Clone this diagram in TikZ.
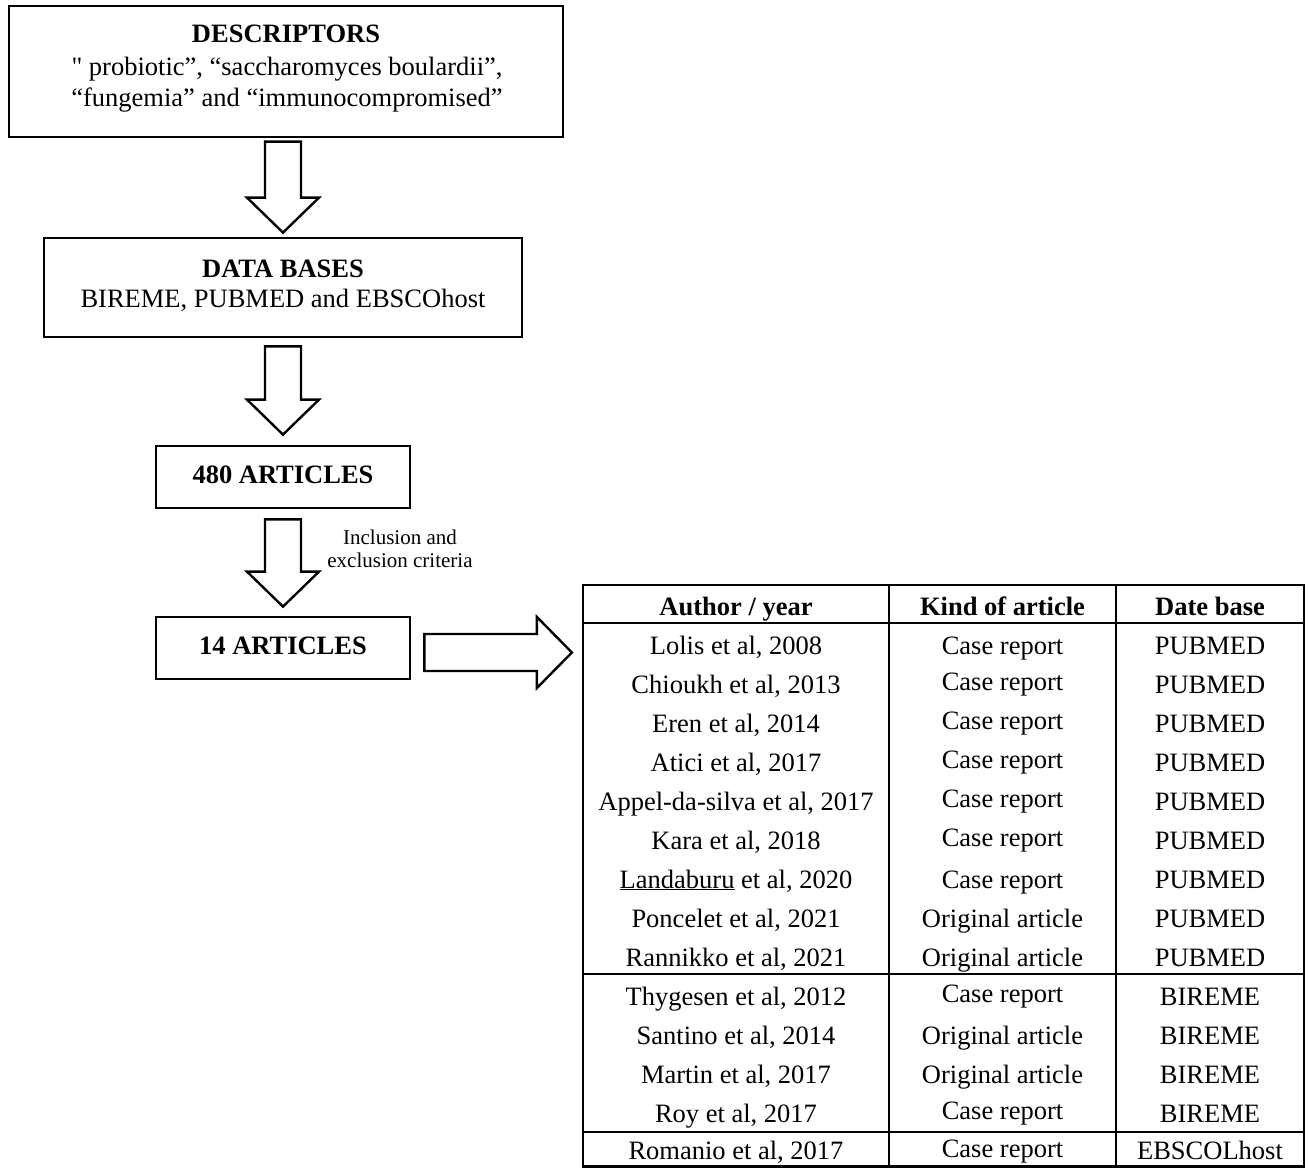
\documentclass[tikz,border=0pt]{standalone}
\usepackage{fontspec}
\setmainfont{Liberation Serif}
\usetikzlibrary{calc}
\tikzset{
  boxshape/.style={draw, line width=2.8pt, inner sep=0pt},
  blk/.style={draw, line width=2.4pt, line join=miter, fill=white},
  txt/.style={inner sep=0pt, anchor=base, font=\fontsize{26.5}{31}\selectfont},
  btxt/.style={txt, font=\fontsize{26.5}{31}\selectfont\bfseries},
  stxt/.style={inner sep=0pt, anchor=base, font=\fontsize{21}{25}\selectfont},
  tline/.style={line width=2.2pt},
}
\newcommand\straightdq{\XeTeXglyph\XeTeXcharglyph"22\relax}
\newcommand\dnblock[2]{%
  \draw[blk] let \p1=(#1), \p2=(#2) in
    (\x1-18pt,\y1) -- (\x1+18pt,\y1) -- (\x1+18pt,\y2+35pt) -- (\x1+36pt,\y2+35pt)
    -- (\x1,\y2) -- (\x1-36pt,\y2+35pt) -- (\x1-18pt,\y2+35pt) -- cycle;}
\begin{document}
\begin{tikzpicture}[x=1pt,y=-1pt]
\useasboundingbox (0,0) rectangle (1309,1168);

% boxes
\node[boxshape, minimum width=554, minimum height=131] (desc) at (286,71.5) {};
\node[btxt] (desc1) at (286,42) {DESCRIPTORS};
\node[txt] (desc2) at (287,75) {\straightdq{} probiotic”, “saccharomyces boulardii”,};
\node[txt] (desc3) at (287,106) {“fungemia” and “immunocompromised”};

\node[boxshape, minimum width=478, minimum height=99] (db) at (283,287.5) {};
\node[btxt] (db1) at (283,277) {DATA BASES};
\node[txt] (db2) at (283,307) {BIREME, PUBMED and EBSCOhost};

\node[boxshape, minimum width=254, minimum height=62] (a480) at (283,477) {};
\node[btxt] (a480t) at (283,483) {480 ARTICLES};

\node[boxshape, minimum width=254, minimum height=62] (a14) at (283,648) {};
\node[btxt] (a14t) at (283,654) {14 ARTICLES};

% block arrows
\coordinate (s1) at ($(db.north)+(0,-95)$);
\coordinate (t1) at ($(db.north)+(0,-4)$);
\coordinate (s2) at ($(db.south)+(0,8)$);
\coordinate (t2) at ($(a480.north)+(0,-10)$);
\coordinate (s3) at ($(a480.south)+(0,10)$);
\coordinate (t3) at ($(a14.north)+(0,-9)$);
\dnblock{s1}{t1}
\dnblock{s2}{t2}
\dnblock{s3}{t3}

\node[stxt] (crit1) at (400,544) {Inclusion and};
\node[stxt] (crit2) at (400,567) {exclusion criteria};

% table
\node[draw, line width=2.2pt, inner sep=0pt, minimum width=721, minimum height=581.5] (tbl) at (943.5,875.75) {};

% right block arrow
\coordinate (rs) at ($(a14.east)+(13,4.5)$);
\coordinate (rt) at ($(tbl.west |- rs)+(-10,0)$);
\draw[blk] let \p1=(rs), \p2=(rt) in
  (\x1,\y1+18.5pt) -- (\x2-35pt,\y1+18.5pt) -- (\x2-35pt,\y1+35.5pt) -- (\x2,\y1)
  -- (\x2-35pt,\y1-35.5pt) -- (\x2-35pt,\y1-18.5pt) -- (\x1,\y1-18.5pt) -- cycle;

% table rules
\draw[tline] (583,623) -- (1304,623);
\draw[tline] (583,974) -- (1304,974);
\draw[tline] (583,1132) -- (1304,1132);
\draw[tline] (889,585) -- (889,1166.5);
\draw[tline] (1116,585) -- (1116,1166.5);

% header
\node[btxt] (h1) at (736,615) {Author / year};
\node[btxt] (h2) at (1002.5,615) {Kind of article};
\node[btxt] (h3) at (1210,615) {Date base};

% rows
\foreach \i/\yy/\au/\ki/\dbn/\ks in {
  1/645/{Lolis et al, 2008}/{Case report}/PUBMED/0,
  2/684/{Chioukh et al, 2013}/{Case report}/PUBMED/3,
  3/723/{Eren et al, 2014}/{Case report}/PUBMED/3,
  4/762/{Atici et al, 2017}/{Case report}/PUBMED/3,
  5/801/{Appel-da-silva et al, 2017}/{Case report}/PUBMED/3,
  6/840/{Kara et al, 2018}/{Case report}/PUBMED/3,
  7/879/{\underline{Landaburu} et al, 2020}/{Case report}/PUBMED/0,
  8/918/{Poncelet et al, 2021}/{Original article}/PUBMED/0,
  9/957/{Rannikko et al, 2021}/{Original article}/PUBMED/0,
  10/996/{Thygesen et al, 2012}/{Case report}/BIREME/3,
  11/1035/{Santino et al, 2014}/{Original article}/BIREME/0,
  12/1074/{Martin et al, 2017}/{Original article}/BIREME/0,
  13/1113/{Roy et al, 2017}/{Case report}/BIREME/3,
  14/1150/{Romanio et al, 2017}/{Case report}/EBSCOLhost/2}
{
  \node[txt] (ra\i) at (736,\yy+9) {\au};
  \node[txt] (rk\i) at (1002.5,\yy+9-\ks) {\ki};
  \node[txt] (rd\i) at (1210,\yy+9) {\dbn};
}
\end{tikzpicture}
\end{document}
